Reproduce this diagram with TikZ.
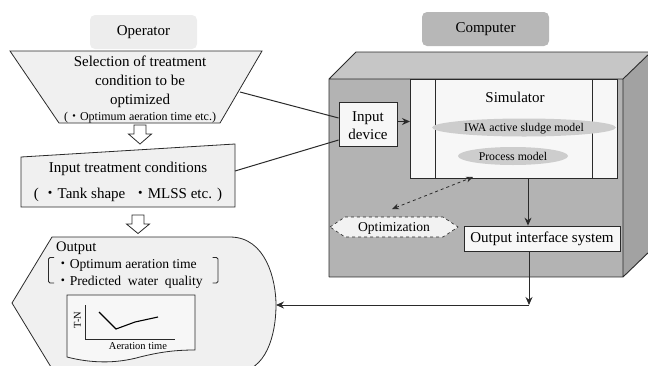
\documentclass[tikz,border=0pt]{standalone}
\usepackage{fontspec}
\setmainfont{Liberation Serif}
\newfontfamily\cjk{Noto Sans CJK JP}
\usetikzlibrary{arrows.meta}

\definecolor{panel}{HTML}{F0F0F0}
\definecolor{oplabel}{HTML}{EDEDED}
\definecolor{cplabel}{HTML}{B7B7B7}
\definecolor{front}{HTML}{B3B3B3}
\definecolor{topface}{HTML}{C6C6C6}
\definecolor{sideface}{HTML}{A2A2A2}
\definecolor{model}{HTML}{CDCDCD}
\definecolor{edge}{HTML}{2A2A2A}

\newcommand{\md}{{\cjk ・}}

\tikzset{
  fs/.style={font=\fontsize{#1}{#1}\selectfont},
  panelshape/.style={draw=edge, line width=0.8pt, fill=panel},
  labelbox/.style={rounded corners=5pt, minimum width=107pt, minimum height=34pt, inner sep=0pt, fs=15},
  whitebox/.style={draw=edge, line width=0.8pt, fill=white!97!black, inner sep=0pt},
  txt/.style={inner sep=0pt, anchor=base},
  conn/.style={draw=edge, line width=1pt},
  tip/.style={-{Stealth[length=8pt,width=7pt]}},
  hollowarrow/.style={draw=edge, line width=0.8pt, fill=white},
}

\begin{document}
\begin{tikzpicture}[x=1pt,y=-1pt]
\useasboundingbox (0,0) rectangle (648,365);
\clip (0,0) rectangle (648,365);

% ---------------- operator side ----------------
\node[labelbox, fill=oplabel] (op) at (143.5,32) {Operator};

% selection of treatment condition (trapezoid)
\draw[panelshape] (10,51) -- (262,51) -- (220,123) -- (59,123) -- cycle;
\coordinate (selR) at (240,92);
\node[txt, fs=15] (sel1) at (140,66.5) {Selection of treatment};
\node[txt, fs=15] (sel2) at (140,85.5) {condition to be};
\node[txt, fs=15] (sel3) at (140,104) {optimized};
\node[txt, fs=12] (sel4) at (140,120.5) {(\md Optimum aeration time etc.)};

% hollow arrow 1
\draw[hollowarrow] (134,125) -- (146,125) -- (146,134) -- (151.5,134) -- (140,144)
  -- (128.5,134) -- (134,134) -- cycle;

% input treatment conditions
\draw[panelshape] (21,157) -- (235,144) -- (235,207) -- (21,207) -- cycle;
\coordinate (condR) at (235,171);
\node[txt, fs=15] (cond1) at (128,172.5) {Input treatment conditions};
\node[txt, fs=15] (cond2) at (128,198.5) {(\ \md Tank shape \ \md MLSS etc. )};

% hollow arrow 2
\draw[hollowarrow] (132,215) -- (144,215) -- (144,224) -- (149.5,224) -- (138,233.5)
  -- (126.5,224) -- (132,224) -- cycle;

% output display shape
\draw[panelshape] (52,237) -- (230,237)
  .. controls (266,237) and (276,280) .. (276,305)
  .. controls (276,335) and (266,372) .. (236,372)
  -- (54,372) -- (12,303) -- cycle;
\coordinate (outE) at (276,305);
\node[txt, fs=14.5, anchor=base west] (outt) at (56,251) {Output};
\draw[edge, line width=0.9pt, rounded corners=1.5pt] (54,257.5) -- (48.5,257.5) -- (48.5,283) -- (54,283);
\draw[edge, line width=0.9pt, rounded corners=1.5pt] (212.5,257.5) -- (218,257.5) -- (218,283) -- (212.5,283);
\node[txt, fs=13.6, anchor=base west] (o1) at (56,268.5) {\md Optimum aeration time};
\node[txt, fs=13.6, anchor=base west] (o2) at (56,285.5) {\md Predicted\ \ water\ \ quality};

% small chart sheet
\draw[draw=edge, line width=0.8pt, fill=white!97!black] (67,295) -- (195,295) -- (195,350)
  .. controls (175,350) and (160,352) .. (140,357)
  .. controls (115,364) and (90,363) .. (67,357) -- cycle;
\draw[edge, line width=0.8pt] (85,305) -- (85,339) -- (175,339);
\draw[black, line width=1.1pt] (99,312) -- (116,329) -- (135,322) -- (158,317);
\node[txt, fs=10.5, rotate=90, anchor=center] (tn) at (77.5,320) {T-N};
\node[txt, fs=10.5] (at) at (138,349) {Aeration time};

% ---------------- computer side ----------------
\node[labelbox, fill=cplabel, minimum width=127pt] (cp) at (485.5,29) {Computer};

% cabinet
\fill[topface] (329,79) -- (356,52) -- (651,52) -- (623,79) -- cycle;
\fill[sideface] (623,79) -- (651,52) -- (651,250) -- (623,277) -- cycle;
\fill[front] (329,79) rectangle (623,277);
\draw[edge, line width=0.9pt, line join=round]
  (329,277) -- (329,79) -- (356,52) -- (651,52)
  (329,79) -- (623,79) -- (651,52)
  (623,79) -- (623,277) -- (329,277)
  (623,277) -- (651,250);

% simulator
\draw[draw=edge, line width=0.8pt, fill=white!97!black] (410,79.5) rectangle (617,178);
\draw[edge, line width=0.8pt] (435,79.5) -- (435,178) (592,79.5) -- (592,178);
\coordinate (simW) at (410,121.5);
\coordinate (simS) at (528,178);
\coordinate (simSW) at (473,177);
\node[txt, fs=15] (simt) at (515,102) {Simulator};
\fill[model] (524,127.5) ellipse [x radius=92, y radius=9];
\node[txt, fs=11.8] (iwa) at (524,131.5) {IWA active sludge model};
\fill[model] (513,156) ellipse [x radius=55, y radius=9];
\node[txt, fs=11.8] (proc) at (513,160) {Process model};

% input device
\node[whitebox, minimum width=58pt, minimum height=44pt] (indev) at (368,124) {};
\node[txt, fs=15] (in1) at (368,121) {Input};
\node[txt, fs=15] (in2) at (368,139) {device};

% optimization
\draw[draw=edge, dashed, line width=0.6pt, fill=white!95!black]
  (330,227) -- (345,217) -- (443,217) -- (458,227) -- (443,237) -- (345,237) -- cycle;
\coordinate (optN) at (392,209);
\node[txt, fs=13.6] (optt) at (394,231) {Optimization};

% output interface system
\node[whitebox, minimum width=156pt, minimum height=25pt, fs=15] (ois) at (542,238.5) {Output interface system};

% ---------------- connectors ----------------
\draw[conn] (selR) -- ([yshift=6pt]indev.west);
\draw[conn] (condR) -- ([yshift=-16pt]indev.west);
\draw[conn, tip] (indev.east |- simW) -- (simW);
\draw[conn, tip] (simS) -- (simS |- ois.north);
\draw[edge, line width=0.8pt, dashed, {Stealth[length=7pt,width=6pt]}-{Stealth[length=7pt,width=6pt]}] (optN) -- (simSW);
\coordinate (bend) at (529,305);
\draw[conn, tip] (bend |- ois.south) -- (bend);
\draw[conn, tip] (bend) -- (outE);

\end{tikzpicture}
\end{document}
